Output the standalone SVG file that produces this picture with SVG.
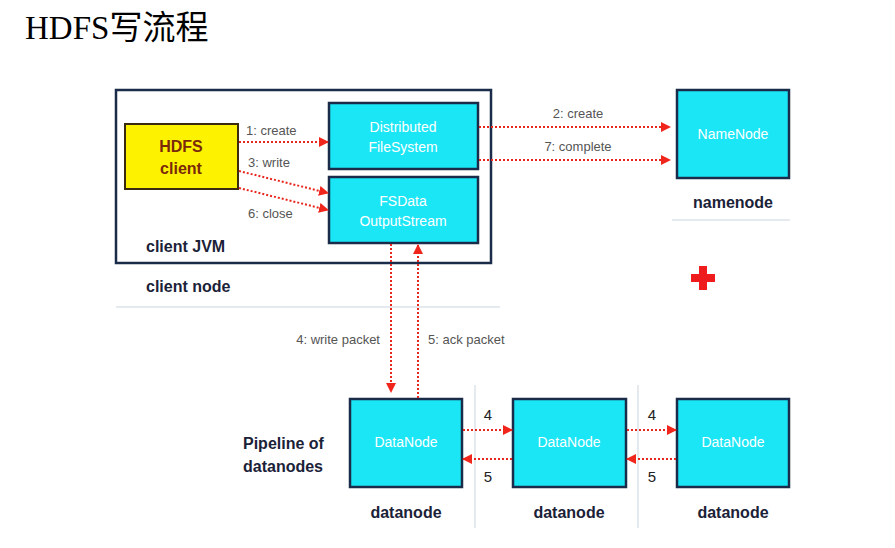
<svg xmlns="http://www.w3.org/2000/svg" width="895" height="548" viewBox="0 0 895 548">
<defs>
<marker id="ah" viewBox="0 0 10 10" refX="9" refY="5" markerWidth="10" markerHeight="10" markerUnits="userSpaceOnUse" orient="auto">
<path d="M0,0 L10,5 L0,10 Z" fill="#f0261c"/>
</marker>
<style>
.box{fill:#1ae6f6;stroke:#1b2c4a;stroke-width:2.5}
.in{font-family:"Liberation Sans Narrow","Liberation Sans",sans-serif;font-size:14px;fill:#ffffff;text-anchor:middle}
.lbl{font-family:"Liberation Sans Narrow","Liberation Sans",sans-serif;font-size:13px;fill:#555}
.bl{font-family:"Liberation Sans Narrow","Liberation Sans",sans-serif;font-size:16px;font-weight:bold;fill:#1b2238}
.arr{stroke:#e8261d;stroke-width:2;stroke-dasharray:2 2;fill:none;marker-end:url(#ah)}
.sep{stroke:#dde3e8;stroke-width:1.5}
</style>
</defs>
<rect width="895" height="548" fill="#ffffff"/>
<text x="25" y="39" font-family="'Liberation Serif','Noto Sans CJK SC',serif" font-size="33" fill="#000">HDFS<tspan font-family="'Noto Sans CJK SC',sans-serif" font-size="33">写流程</tspan></text>

<g id="separators">
<line class="sep" x1="116" y1="307" x2="500" y2="307"/>
<line class="sep" x1="672" y1="220" x2="790" y2="220"/>
<line class="sep" x1="475" y1="385" x2="475" y2="528"/>
<line class="sep" x1="638" y1="385" x2="638" y2="528"/>
</g>

<g id="client-node">
<rect x="116" y="90" width="375" height="173" fill="#fff" stroke="#1b2c4a" stroke-width="2.5"/>
<text class="bl" x="146" y="252" font-size="15">client JVM</text>
<text class="bl" x="146" y="292" font-size="15" fill="#143a5a">client node</text>
</g>

<g id="hdfs-client">
<rect x="125" y="124" width="113" height="65" fill="#fdf200" stroke="#3a2a10" stroke-width="2"/>
<text x="181" y="152" font-family="'Liberation Sans Narrow','Liberation Sans',sans-serif" font-size="16" font-weight="bold" fill="#7a2a0a" text-anchor="middle">HDFS</text>
<text x="181" y="174" font-family="'Liberation Sans Narrow','Liberation Sans',sans-serif" font-size="16" font-weight="bold" fill="#7a2a0a" text-anchor="middle">client</text>
</g>

<g id="dfs">
<rect class="box" x="329" y="103" width="149" height="66"/>
<text class="in" x="403" y="132">Distributed</text>
<text class="in" x="403" y="152">FileSystem</text>
</g>

<g id="fsdata">
<rect class="box" x="329" y="177" width="149" height="66"/>
<text class="in" x="403" y="206">FSData</text>
<text class="in" x="403" y="226">OutputStream</text>
</g>

<g id="namenode">
<rect class="box" x="677" y="90" width="112" height="88"/>
<text class="in" x="733" y="139">NameNode</text>
<text class="bl" x="733" y="208" text-anchor="middle">namenode</text>
</g>

<g id="plus">
<path d="M699,266 h8 v8 h8 v8 h-8 v8 h-8 v-8 h-8 v-8 h8 Z" fill="#ee1c1c"/>
</g>

<g id="dn1">
<rect class="box" x="350" y="399" width="112" height="88"/>
<text class="in" x="406" y="447">DataNode</text>
<text class="bl" x="406" y="518" font-size="15" text-anchor="middle">datanode</text>
</g>
<g id="dn2">
<rect class="box" x="513" y="399" width="113" height="88"/>
<text class="in" x="569" y="447">DataNode</text>
<text class="bl" x="569" y="518" font-size="15" text-anchor="middle">datanode</text>
</g>
<g id="dn3">
<rect class="box" x="677" y="399" width="112" height="88"/>
<text class="in" x="733" y="447">DataNode</text>
<text class="bl" x="733" y="518" font-size="15" text-anchor="middle">datanode</text>
</g>

<g id="pipeline-label">
<text class="bl" x="243" y="449">Pipeline of</text>
<text class="bl" x="243" y="472">datanodes</text>
</g>

<g id="connectors">
<line class="arr" x1="239" y1="142" x2="328" y2="142"/>
<line class="arr" x1="239" y1="171" x2="328" y2="193"/>
<line class="arr" x1="239" y1="188" x2="328" y2="210"/>
<line class="arr" x1="479" y1="127" x2="670" y2="127"/>
<line class="arr" x1="479" y1="160" x2="670" y2="160"/>
<line class="arr" x1="391" y1="244" x2="391" y2="392"/>
<line class="arr" x1="418" y1="398" x2="418" y2="245"/>
<line class="arr" x1="463" y1="430" x2="512" y2="430"/>
<line class="arr" x1="512" y1="459" x2="463" y2="459"/>
<line class="arr" x1="627" y1="430" x2="676" y2="430"/>
<line class="arr" x1="676" y1="459" x2="627" y2="459"/>
<text class="lbl" x="246" y="135">1: create</text>
<text class="lbl" x="248" y="167">3: write</text>
<text class="lbl" x="248" y="218">6: close</text>
<text class="lbl" x="578" y="118" text-anchor="middle">2: create</text>
<text class="lbl" x="578" y="151" text-anchor="middle">7: complete</text>
<text class="lbl" x="380" y="344" text-anchor="end">4: write packet</text>
<text class="lbl" x="428" y="344">5: ack packet</text>
<text x="488" y="420" font-family="'Liberation Sans Narrow','Liberation Sans',sans-serif" font-size="15" fill="#222" text-anchor="middle">4</text>
<text x="488" y="482" font-family="'Liberation Sans Narrow','Liberation Sans',sans-serif" font-size="15" fill="#222" text-anchor="middle">5</text>
<text x="652" y="420" font-family="'Liberation Sans Narrow','Liberation Sans',sans-serif" font-size="15" fill="#222" text-anchor="middle">4</text>
<text x="652" y="482" font-family="'Liberation Sans Narrow','Liberation Sans',sans-serif" font-size="15" fill="#222" text-anchor="middle">5</text>
</g>
</svg>
